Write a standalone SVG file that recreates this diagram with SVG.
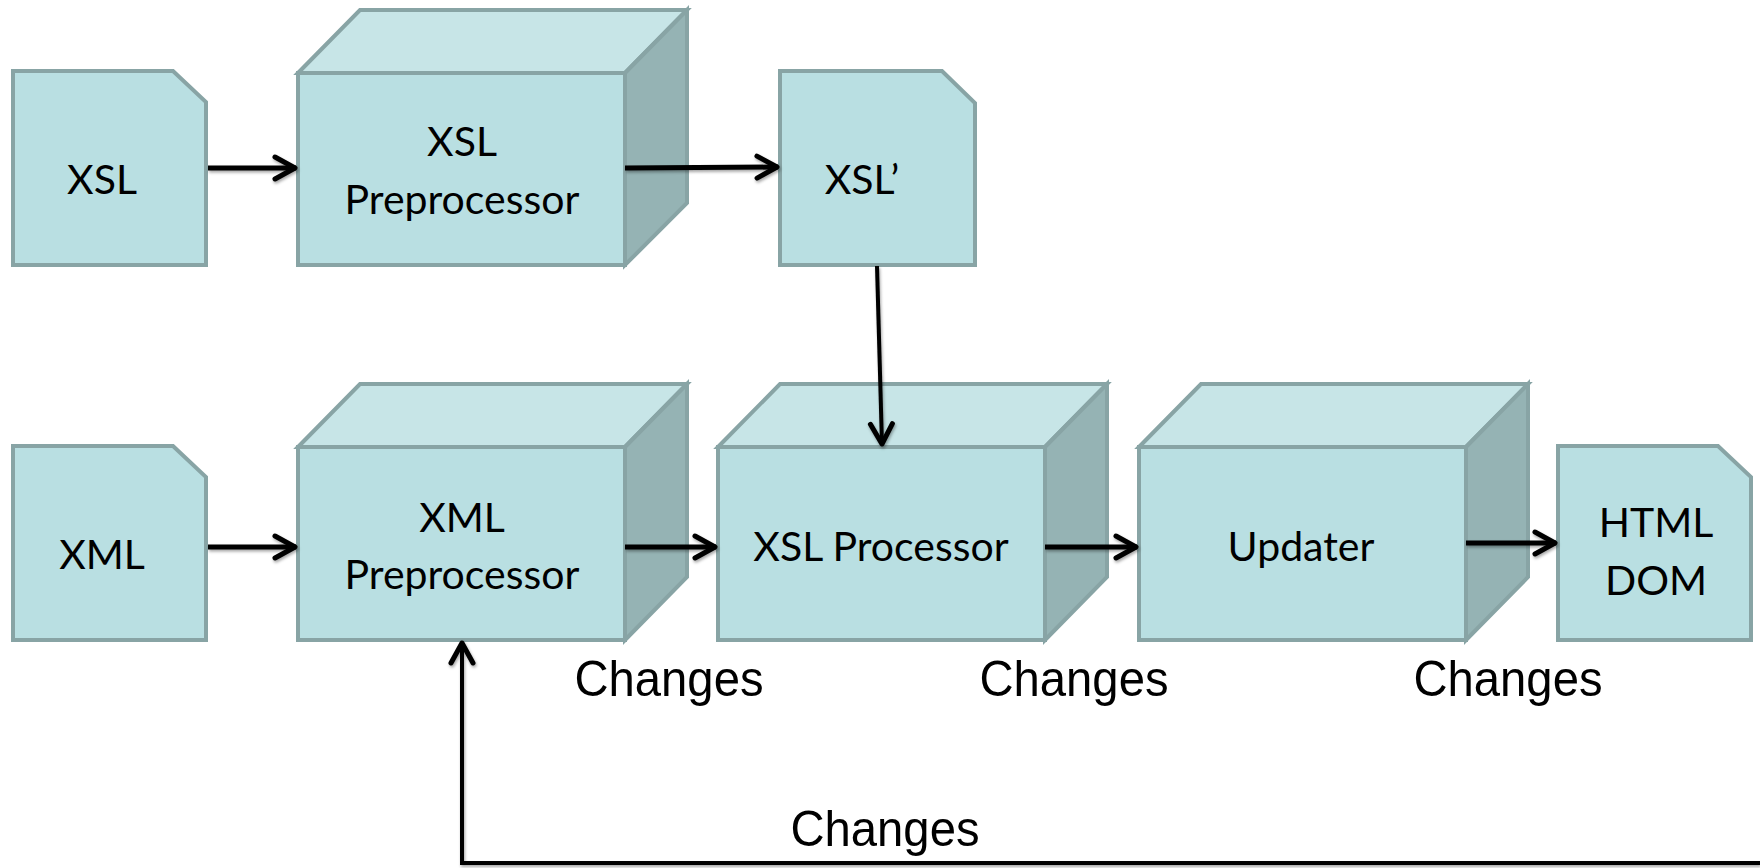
<svg xmlns="http://www.w3.org/2000/svg" width="1760" height="868" viewBox="0 0 1760 868">
  <style>
    .front { fill: #b9dfe2; stroke: #88a4a5; stroke-width: 4; stroke-linejoin: miter; }
    .top { fill: #c7e5e7; stroke: #88a4a5; stroke-width: 4; stroke-linejoin: miter; }
    .side { fill: #95b3b4; stroke: #88a4a5; stroke-width: 4; stroke-linejoin: miter; }
    .doc { fill: #b9dfe2; stroke: #88a4a5; stroke-width: 4; stroke-linejoin: miter; }
    .label { font-family: Lato, "Open Sans", "DejaVu Sans", sans-serif; font-size: 41px; fill: #000; text-anchor: middle; }
    .note { font-family: "Liberation Sans", Arial, sans-serif; font-size: 50px; fill: #000; text-anchor: middle; }
    .conn { fill: none; stroke: #000; stroke-width: 5; stroke-linecap: butt; }
    .thin { stroke-width: 4; }
  </style>
  <defs>
    <marker id="arrow" markerUnits="userSpaceOnUse" viewBox="-26 -15 30 30" markerWidth="30" markerHeight="30" refX="0" refY="0" orient="auto">
      <path d="M-21,-11 L-1,0 L-21,11" fill="none" stroke="#000" stroke-width="5" stroke-linecap="round" stroke-linejoin="round"/>
    </marker>
    <filter id="shadow" x="-5%" y="-50%" width="110%" height="200%">
      <feDropShadow dx="1" dy="2" stdDeviation="1.6" flood-color="#000" flood-opacity="0.35"/>
    </filter>
  </defs>

  <!-- Top row -->
  <g id="xsl">
    <path class="doc" d="M13,71 L173,71 L206,102 L206,265 L13,265 Z"/>
    <text class="label" x="102" y="194">XSL</text>
  </g>

  <g id="xsl-preprocessor">
    <path class="top" d="M298,73 L360,10 L687,10 L625,73 Z"/>
    <path class="side" d="M625,73 L687,10 L687,203 L625,265 Z"/>
    <rect class="front" x="298" y="73" width="327" height="192"/>
    <text class="label" x="462" y="156">XSL</text>
    <text class="label" x="462" y="214">Preprocessor</text>
  </g>

  <g id="xsl-prime">
    <path class="doc" d="M780,71 L942,71 L975,103 L975,265 L780,265 Z"/>
    <text class="label" x="862" y="194">XSL’</text>
  </g>

  <!-- Bottom row -->
  <g id="xml">
    <path class="doc" d="M13,446 L173,446 L206,477 L206,640 L13,640 Z"/>
    <text class="label" x="102" y="569">XML</text>
  </g>

  <g id="xml-preprocessor">
    <path class="top" d="M298,447 L360,384 L687,384 L625,447 Z"/>
    <path class="side" d="M625,447 L687,384 L687,577 L625,640 Z"/>
    <rect class="front" x="298" y="447" width="327" height="193"/>
    <text class="label" x="462" y="532">XML</text>
    <text class="label" x="462" y="589">Preprocessor</text>
  </g>

  <g id="xsl-processor">
    <path class="top" d="M718,447 L780,384 L1107,384 L1045,447 Z"/>
    <path class="side" d="M1045,447 L1107,384 L1107,577 L1045,640 Z"/>
    <rect class="front" x="718" y="447" width="327" height="193"/>
    <text class="label" x="881" y="561">XSL Processor</text>
  </g>

  <g id="updater">
    <path class="top" d="M1139,447 L1201,384 L1528,384 L1466,447 Z"/>
    <path class="side" d="M1466,447 L1528,384 L1528,577 L1466,640 Z"/>
    <rect class="front" x="1139" y="447" width="327" height="193"/>
    <text class="label" x="1301" y="561">Updater</text>
  </g>

  <g id="html-dom">
    <path class="doc" d="M1558,446 L1718,446 L1751,477 L1751,640 L1558,640 Z"/>
    <text class="label" x="1656" y="537">HTML</text>
    <text class="label" x="1656" y="595">DOM</text>
  </g>

  <!-- Connectors -->
  <g id="connectors" filter="url(#shadow)">
    <line class="conn" x1="208" y1="168" x2="296" y2="168" marker-end="url(#arrow)"/>
    <line class="conn" x1="625" y1="168" x2="778" y2="167" marker-end="url(#arrow)"/>
    <line class="conn thin" x1="877" y1="266" x2="882" y2="445" marker-end="url(#arrow)"/>
    <line class="conn" x1="208" y1="547" x2="296" y2="547" marker-end="url(#arrow)"/>
    <line class="conn" x1="625" y1="547" x2="716" y2="547" marker-end="url(#arrow)"/>
    <line class="conn" x1="1045" y1="547" x2="1137" y2="547" marker-end="url(#arrow)"/>
    <line class="conn" x1="1466" y1="543" x2="1556" y2="543" marker-end="url(#arrow)"/>
    <polyline class="conn thin" points="1760,863 462,863 462,642" marker-end="url(#arrow)"/>
  </g>

  <!-- Edge labels -->
  <g id="labels">
    <text class="note" x="669" y="696" textLength="189" lengthAdjust="spacingAndGlyphs">Changes</text>
    <text class="note" x="1074" y="696" textLength="189" lengthAdjust="spacingAndGlyphs">Changes</text>
    <text class="note" x="1508" y="696" textLength="189" lengthAdjust="spacingAndGlyphs">Changes</text>
    <text class="note" x="885" y="846" textLength="189" lengthAdjust="spacingAndGlyphs">Changes</text>
  </g>
</svg>
